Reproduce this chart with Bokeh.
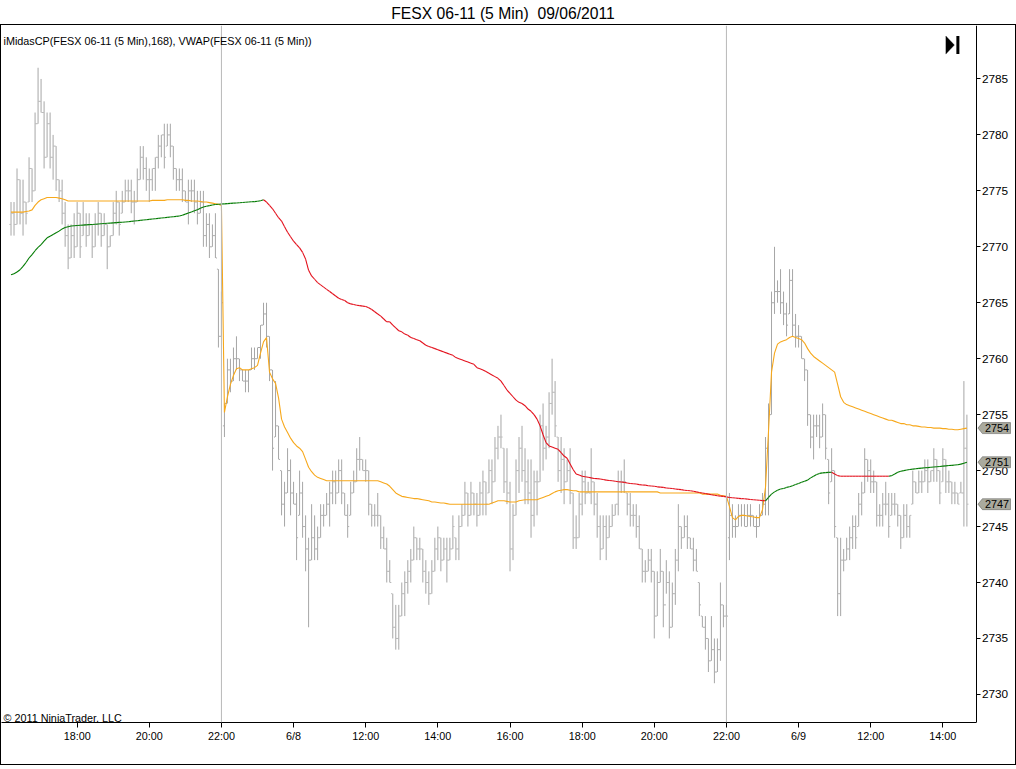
from bokeh.plotting import figure
from bokeh.models import (FixedTicker, Span, Label, PolyAnnotation, Div,
                          ColumnDataSource, Range1d)
from bokeh.layouts import column
from bokeh.embed import file_html
from bokeh.resources import INLINE

# ---------------- data (5 min bars, FESX 06-11) ----------------
TITLE = "FESX 06-11 (5 Min)  09/06/2011"
LEGEND = "iMidasCP(FESX 06-11 (5 Min),168), VWAP(FESX 06-11 (5 Min))"
COPYRIGHT = "\u00a9 2011 NinjaTrader, LLC"

TICK_BARS = [22, 46, 70, 94, 118, 142, 166, 190, 214, 238, 262, 286, 310]
TICK_LABELS = ["18:00", "20:00", "22:00", "6/8", "12:00", "14:00", "16:00",
               "18:00", "20:00", "22:00", "6/9", "12:00", "14:00"]
PRICE_TICKS = [2730, 2735, 2740, 2745, 2750, 2755, 2760, 2765, 2770, 2775, 2780, 2785]
SESSION_BREAKS = [70, 238]

# session 1 (6/7 16:10 - 22:00)
high_s1 = [2774, 2774, 2777, 2776, 2776, 2774, 2778, 2777, 2782, 2786,
           2785, 2783, 2782, 2782, 2780, 2779, 2776, 2776, 2774, 2772,
           2772, 2773, 2774, 2773, 2774, 2773, 2773, 2772, 2773, 2774,
           2773, 2773, 2772, 2771, 2774, 2775, 2774, 2775, 2776, 2776,
           2776, 2775, 2777, 2779, 2779, 2778, 2777, 2777, 2778, 2780,
           2780, 2781, 2781, 2781, 2779, 2777, 2777, 2777, 2775, 2776,
           2776, 2776, 2775, 2775, 2775, 2773, 2773, 2772, 2773, 2768,
           2766]
low_s1 = [2771, 2771, 2772, 2772, 2771, 2772, 2774, 2774, 2775, 2781,
          2782, 2777, 2778, 2777, 2776, 2775, 2774, 2772, 2770, 2768,
          2769, 2769, 2770, 2769, 2771, 2770, 2771, 2769, 2770, 2771,
          2770, 2771, 2768, 2770, 2771, 2772, 2771, 2773, 2774, 2774,
          2773, 2772, 2774, 2776, 2776, 2775, 2774, 2775, 2775, 2777,
          2778, 2777, 2779, 2778, 2776, 2775, 2775, 2774, 2774, 2772,
          2774, 2773, 2772, 2773, 2770, 2770, 2769, 2770, 2769, 2761,
          2762]
open_s1 = [2772, 2773, 2772, 2776, 2773, 2774, 2774, 2777, 2775, 2781,
           2783, 2782, 2778, 2781, 2778, 2779, 2776, 2775, 2773, 2771,
           2769, 2771, 2770, 2773, 2771, 2772, 2771, 2772, 2770, 2772,
           2773, 2771, 2772, 2770, 2771, 2773, 2774, 2773, 2774, 2775,
           2775, 2774, 2774, 2776, 2778, 2777, 2776, 2776, 2777, 2778,
           2779, 2780, 2779, 2780, 2779, 2777, 2776, 2776, 2775, 2774,
           2775, 2775, 2774, 2773, 2774, 2771, 2772, 2770, 2771, 2768,
           2762]
close_s1 = [2773, 2772, 2776, 2773, 2774, 2773, 2777, 2775, 2781, 2783,
            2782, 2778, 2781, 2778, 2779, 2776, 2775, 2773, 2771, 2769,
            2771, 2770, 2773, 2770, 2772, 2771, 2772, 2770, 2772, 2773,
            2771, 2772, 2770, 2771, 2773, 2774, 2772, 2774, 2775, 2775,
            2774, 2774, 2776, 2778, 2777, 2776, 2776, 2777, 2778, 2779,
            2780, 2778, 2780, 2779, 2777, 2776, 2776, 2775, 2774, 2775,
            2775, 2774, 2773, 2774, 2771, 2772, 2770, 2771, 2769, 2762,
            2765]

# session 2 (6/8 08:05 - 22:00)
high_s2 = [2756, 2760, 2760, 2761, 2762, 2760, 2759, 2759, 2759, 2761,
           2761, 2761, 2763, 2765, 2765, 2762, 2759, 2758, 2754, 2750,
           2749, 2752, 2751, 2749, 2748, 2750, 2749, 2746, 2744, 2747,
           2746, 2745, 2747, 2747, 2748, 2749, 2750, 2750, 2751, 2751,
           2748, 2747, 2749, 2750, 2752, 2753, 2751, 2751, 2750, 2747,
           2747, 2748, 2746, 2745, 2744, 2742, 2739, 2738, 2738, 2740,
           2741, 2742, 2743, 2745, 2744, 2744, 2743, 2742, 2741, 2742,
           2744, 2745, 2744, 2744, 2744, 2744, 2746, 2744, 2746, 2747,
           2749, 2748, 2749, 2748, 2748, 2749, 2750, 2749, 2751, 2751,
           2753, 2754, 2755, 2752, 2752, 2749, 2747, 2751, 2753, 2754,
           2752, 2751, 2751, 2750, 2750, 2755, 2756, 2754, 2757, 2760,
           2758, 2753, 2753, 2752, 2751, 2752, 2748, 2746, 2748, 2750,
           2750, 2749, 2752, 2749, 2748, 2746, 2746, 2746, 2746, 2747,
           2747, 2750, 2750, 2751, 2748, 2748, 2747, 2747, 2746, 2743,
           2742, 2743, 2743, 2741, 2741, 2743, 2741, 2742, 2741, 2740,
           2743, 2747, 2745, 2746, 2746, 2744, 2744, 2743, 2740, 2737,
           2737, 2735, 2737, 2735, 2735, 2740, 2738, 2738]
low_s2 = [2753, 2756, 2757, 2758, 2759, 2758, 2758, 2757, 2757, 2759,
          2759, 2760, 2760, 2763, 2761, 2758, 2750, 2753, 2751, 2746,
          2745, 2748, 2746, 2747, 2742, 2746, 2744, 2741, 2736, 2742,
          2742, 2742, 2744, 2745, 2746, 2745, 2747, 2747, 2748, 2747,
          2746, 2744, 2746, 2748, 2749, 2750, 2750, 2749, 2746, 2745,
          2745, 2745, 2743, 2743, 2740, 2740, 2735, 2734, 2734, 2737,
          2737, 2739, 2740, 2742, 2742, 2742, 2740, 2739, 2738, 2739,
          2741, 2742, 2741, 2742, 2740, 2742, 2743, 2742, 2742, 2745,
          2746, 2745, 2746, 2746, 2745, 2746, 2746, 2746, 2748, 2747,
          2749, 2751, 2752, 2748, 2747, 2741, 2742, 2746, 2748, 2749,
          2747, 2747, 2744, 2745, 2746, 2749, 2750, 2751, 2752, 2755,
          2753, 2749, 2748, 2747, 2749, 2747, 2743, 2743, 2744, 2746,
          2747, 2748, 2747, 2746, 2744, 2742, 2743, 2742, 2744, 2745,
          2746, 2746, 2748, 2748, 2746, 2745, 2745, 2744, 2743, 2740,
          2740, 2741, 2740, 2735, 2737, 2740, 2736, 2739, 2735, 2736,
          2738, 2741, 2743, 2744, 2743, 2743, 2741, 2741, 2737, 2736,
          2734, 2732, 2733, 2731, 2732, 2733, 2736, 2737]
open_s2 = [2754, 2756, 2759, 2758, 2760, 2760, 2759, 2758, 2758, 2759,
           2760, 2760, 2761, 2763, 2764, 2762, 2759, 2753, 2754, 2750,
           2747, 2748, 2750, 2748, 2747, 2746, 2748, 2745, 2743, 2742,
           2744, 2743, 2744, 2746, 2746, 2747, 2748, 2749, 2748, 2750,
           2748, 2746, 2746, 2748, 2749, 2751, 2751, 2750, 2750, 2747,
           2746, 2746, 2746, 2744, 2743, 2741, 2739, 2736, 2735, 2737,
           2739, 2740, 2741, 2742, 2744, 2743, 2743, 2741, 2740, 2739,
           2741, 2743, 2744, 2742, 2743, 2742, 2743, 2744, 2743, 2745,
           2746, 2748, 2746, 2748, 2747, 2746, 2748, 2749, 2748, 2750,
           2749, 2752, 2753, 2752, 2749, 2748, 2743, 2746, 2750, 2752,
           2750, 2749, 2748, 2746, 2749, 2749, 2754, 2752, 2753, 2756,
           2757, 2753, 2750, 2751, 2749, 2750, 2748, 2744, 2744, 2747,
           2749, 2748, 2748, 2749, 2747, 2745, 2743, 2745, 2744, 2745,
           2746, 2747, 2749, 2749, 2748, 2747, 2746, 2746, 2745, 2743,
           2741, 2741, 2742, 2741, 2737, 2740, 2741, 2738, 2740, 2736,
           2739, 2742, 2745, 2744, 2745, 2744, 2743, 2742, 2740, 2737,
           2736, 2735, 2733, 2734, 2732, 2734, 2738, 2737]
close_s2 = [2756, 2759, 2758, 2760, 2760, 2759, 2758, 2758, 2759, 2760,
            2760, 2761, 2763, 2764, 2762, 2759, 2752, 2754, 2751, 2747,
            2748, 2750, 2748, 2747, 2744, 2748, 2745, 2743, 2742, 2744,
            2743, 2744, 2746, 2746, 2747, 2748, 2749, 2748, 2750, 2748,
            2746, 2745, 2748, 2749, 2751, 2751, 2750, 2750, 2747, 2746,
            2746, 2746, 2744, 2743, 2741, 2740, 2736, 2735, 2737, 2739,
            2740, 2741, 2742, 2744, 2743, 2743, 2741, 2740, 2739, 2741,
            2743, 2744, 2742, 2743, 2742, 2743, 2745, 2743, 2745, 2746,
            2748, 2746, 2748, 2747, 2746, 2748, 2749, 2747, 2750, 2749,
            2752, 2753, 2753, 2749, 2748, 2743, 2746, 2750, 2752, 2750,
            2749, 2748, 2746, 2749, 2749, 2754, 2752, 2753, 2756, 2757,
            2754, 2750, 2751, 2749, 2750, 2748, 2744, 2744, 2747, 2749,
            2748, 2748, 2749, 2747, 2745, 2743, 2745, 2744, 2745, 2746,
            2747, 2749, 2749, 2749, 2747, 2746, 2746, 2745, 2743, 2741,
            2741, 2742, 2741, 2737, 2740, 2741, 2738, 2740, 2736, 2739,
            2742, 2745, 2744, 2745, 2744, 2743, 2742, 2741, 2738, 2736,
            2735, 2733, 2734, 2732, 2734, 2738, 2737, 2737]

# session 3 (6/9 08:05 - 14:40)
high_s3 = [2748, 2747, 2746, 2747, 2747, 2747, 2747, 2747, 2746, 2746,
           2747, 2748, 2753, 2756, 2766, 2770, 2767, 2768, 2766, 2765,
           2768, 2768, 2764, 2763, 2762, 2760, 2759, 2755, 2755, 2755,
           2755, 2756, 2755, 2751, 2752, 2750, 2744, 2744, 2743, 2744,
           2745, 2746, 2746, 2748, 2749, 2752, 2751, 2751, 2750, 2749,
           2747, 2748, 2749, 2748, 2748, 2748, 2747, 2746, 2747, 2747,
           2746, 2750, 2749, 2750, 2750, 2751, 2751, 2750, 2752, 2751,
           2750, 2752, 2751, 2750, 2749, 2749, 2748, 2749, 2758, 2755]
low_s3 = [2742, 2744, 2744, 2745, 2745, 2745, 2745, 2745, 2745, 2744,
          2745, 2746, 2746, 2746, 2755, 2764, 2765, 2764, 2763, 2762,
          2764, 2762, 2761, 2761, 2760, 2758, 2754, 2752, 2751, 2753,
          2752, 2753, 2751, 2747, 2749, 2744, 2737, 2737, 2741, 2742,
          2742, 2743, 2743, 2745, 2746, 2748, 2749, 2748, 2748, 2745,
          2745, 2745, 2746, 2744, 2746, 2746, 2745, 2743, 2744, 2744,
          2744, 2747, 2748, 2748, 2748, 2749, 2748, 2749, 2749, 2749,
          2747, 2749, 2748, 2748, 2747, 2747, 2747, 2748, 2745, 2745]
open_s3 = [2744, 2746, 2745, 2745, 2746, 2746, 2745, 2746, 2746, 2745,
           2745, 2746, 2747, 2752, 2755, 2765, 2766, 2766, 2765, 2764,
           2764, 2767, 2763, 2762, 2762, 2760, 2759, 2755, 2753, 2754,
           2754, 2753, 2755, 2751, 2749, 2750, 2744, 2739, 2742, 2742,
           2743, 2744, 2745, 2745, 2747, 2748, 2751, 2750, 2749, 2749,
           2746, 2746, 2747, 2747, 2746, 2747, 2747, 2746, 2744, 2746,
           2745, 2747, 2749, 2748, 2749, 2749, 2750, 2749, 2750, 2751,
           2750, 2749, 2751, 2749, 2749, 2748, 2748, 2748, 2748, 2752]
close_s3 = [2746, 2745, 2745, 2746, 2746, 2745, 2746, 2746, 2745, 2745,
            2746, 2747, 2752, 2755, 2765, 2766, 2766, 2765, 2764, 2763,
            2767, 2763, 2762, 2762, 2760, 2759, 2755, 2753, 2754, 2754,
            2753, 2755, 2752, 2748, 2750, 2745, 2739, 2742, 2742, 2743,
            2744, 2745, 2744, 2747, 2748, 2751, 2750, 2749, 2749, 2746,
            2746, 2747, 2747, 2745, 2747, 2747, 2746, 2744, 2746, 2745,
            2746, 2749, 2748, 2749, 2749, 2750, 2749, 2750, 2751, 2750,
            2748, 2751, 2749, 2749, 2748, 2748, 2747, 2748, 2752, 2747]

# VWAP (session anchored)
vwap_s1 = [2773.1, 2773.1, 2773.1, 2773.1, 2773.1, 2773.15, 2773.2, 2773.3, 2773.7, 2774.0,
           2774.2, 2774.3, 2774.4, 2774.4, 2774.4, 2774.4, 2774.35, 2774.3, 2774.2, 2774.1,
           2774.1, 2774.1, 2774.1, 2774.1, 2774.1, 2774.1, 2774.1, 2774.1, 2774.1, 2774.1,
           2774.1, 2774.1, 2774.1, 2774.1, 2774.1, 2774.1, 2774.1, 2774.1, 2774.1, 2774.1,
           2774.1, 2774.1, 2774.1, 2774.1, 2774.1, 2774.1, 2774.1, 2774.15, 2774.15, 2774.15,
           2774.15, 2774.15, 2774.2, 2774.2, 2774.2, 2774.2, 2774.2, 2774.2, 2774.15, 2774.15,
           2774.1, 2774.1, 2774.1, 2774.05, 2774.0, 2774.0, 2773.95, 2773.9, 2773.85, 2773.8,
           2773.7]
vwap_s2 = [2755.2, 2756.6, 2757.7, 2758.5, 2759.1, 2759.2, 2759.0, 2759.0, 2759.0, 2759.1,
           2759.2, 2759.4, 2760.5, 2761.5, 2761.9, 2758.8, 2758.2, 2757.8, 2756.5, 2754.6,
           2753.9, 2753.4, 2752.9, 2752.5, 2752.2, 2752.0, 2751.7, 2751.0, 2750.3, 2749.9,
           2749.6, 2749.4, 2749.3, 2749.2, 2749.1, 2749.1, 2749.1, 2749.1, 2749.1, 2749.1,
           2749.1, 2749.1, 2749.1, 2749.1, 2749.1, 2749.1, 2749.1, 2749.1, 2749.1, 2749.1,
           2749.1, 2749.1, 2749.0, 2748.9, 2748.8, 2748.6, 2748.3, 2748.0, 2747.85, 2747.7,
           2747.65, 2747.6, 2747.55, 2747.5, 2747.5, 2747.45, 2747.4, 2747.35, 2747.3, 2747.2,
           2747.2, 2747.15, 2747.1, 2747.1, 2747.05, 2747.0, 2747.0, 2747.0, 2747.0, 2747.0,
           2747.0, 2747.0, 2747.0, 2747.0, 2747.0, 2747.0, 2747.0, 2747.0, 2747.0, 2747.1,
           2747.2, 2747.3, 2747.3, 2747.3, 2747.25, 2747.2, 2747.2, 2747.2, 2747.3, 2747.35,
           2747.4, 2747.4, 2747.4, 2747.4, 2747.4, 2747.5, 2747.6, 2747.7, 2747.8, 2747.95,
           2748.1, 2748.2, 2748.25, 2748.3, 2748.3, 2748.25, 2748.2, 2748.2, 2748.1, 2748.1,
           2748.1, 2748.1, 2748.1, 2748.1, 2748.1, 2748.1, 2748.1, 2748.1, 2748.1, 2748.1,
           2748.1, 2748.1, 2748.1, 2748.1, 2748.1, 2748.1, 2748.1, 2748.1, 2748.1, 2748.1,
           2748.1, 2748.1, 2748.1, 2748.1, 2748.1, 2748.0, 2748.0, 2748.0, 2748.0, 2748.0,
           2748.0, 2748.0, 2748.0, 2748.0, 2748.0, 2748.0, 2748.0, 2748.0, 2748.0, 2747.9,
           2747.9, 2747.9, 2747.9, 2747.9, 2747.9, 2747.8, 2747.75, 2747.7]
vwap_s3 = [2746.8, 2745.8, 2745.6, 2745.9, 2746.0, 2746.0, 2745.95, 2745.9, 2745.85, 2745.8,
           2745.8, 2746.5, 2748.5, 2753.5, 2758.8, 2760.5, 2761.3, 2761.5, 2761.6, 2761.7,
           2761.9, 2762.0, 2761.9, 2761.8, 2761.7, 2761.4, 2760.9, 2760.5, 2760.2, 2760.0,
           2759.8, 2759.6, 2759.4, 2759.2, 2759.0, 2758.8, 2757.7, 2756.6, 2756.1, 2755.9,
           2755.8, 2755.7, 2755.6, 2755.5, 2755.4, 2755.3, 2755.2, 2755.1, 2755.0, 2754.9,
           2754.8, 2754.7, 2754.6, 2754.5, 2754.5, 2754.4, 2754.3, 2754.2, 2754.2, 2754.1,
           2754.1, 2754.0, 2754.0, 2753.95, 2753.9, 2753.9, 2753.85, 2753.85, 2753.8, 2753.8,
           2753.8, 2753.75, 2753.75, 2753.7, 2753.7, 2753.65, 2753.65, 2753.7, 2753.75, 2753.8]

# iMidasCP (anchored, 168)
midas_s1 = [2767.50, 2767.60, 2767.75, 2767.95, 2768.25, 2768.60, 2769.00, 2769.30, 2769.65, 2769.95,
            2770.20, 2770.50, 2770.80, 2770.95, 2771.10, 2771.25, 2771.40, 2771.60, 2771.72, 2771.80,
            2771.86, 2771.88, 2771.90, 2771.92, 2771.94, 2771.96, 2771.98, 2772.00, 2772.02, 2772.04,
            2772.06, 2772.08, 2772.10, 2772.12, 2772.14, 2772.16, 2772.18, 2772.20, 2772.22, 2772.24,
            2772.27, 2772.30, 2772.33, 2772.36, 2772.39, 2772.42, 2772.45, 2772.48, 2772.51, 2772.54,
            2772.57, 2772.60, 2772.63, 2772.66, 2772.69, 2772.72, 2772.76, 2772.82, 2772.92, 2773.02,
            2773.12, 2773.22, 2773.32, 2773.45, 2773.55, 2773.62, 2773.68, 2773.74, 2773.78, 2773.80,
            2773.82]
midas_s2 = [2773.84, 2773.86, 2773.88, 2773.90, 2773.92, 2773.94, 2773.96, 2773.98, 2774.00, 2774.02,
            2774.04, 2774.07, 2774.12, 2774.20, 2774.00, 2773.70, 2773.40, 2773.00, 2772.60, 2772.30,
            2771.80, 2771.30, 2770.90, 2770.50, 2770.20, 2769.90, 2769.50, 2768.90, 2767.90, 2767.40,
            2767.10, 2766.80, 2766.60, 2766.40, 2766.20, 2766.00, 2765.80, 2765.60, 2765.40, 2765.30,
            2765.20, 2765.00, 2764.90, 2764.85, 2764.78, 2764.74, 2764.70, 2764.66, 2764.55, 2764.40,
            2764.20, 2764.00, 2763.80, 2763.55, 2763.30, 2763.30, 2763.00, 2762.75, 2762.50, 2762.40,
            2762.20, 2762.10, 2761.90, 2761.80, 2761.70, 2761.60, 2761.40, 2761.20, 2761.10, 2761.00,
            2760.90, 2760.80, 2760.70, 2760.60, 2760.50, 2760.40, 2760.30, 2760.10, 2760.00, 2759.90,
            2759.80, 2759.70, 2759.60, 2759.50, 2759.20, 2759.10, 2759.00, 2758.85, 2758.70, 2758.55,
            2758.40, 2758.25, 2758.00, 2757.60, 2757.20, 2756.90, 2756.60, 2756.30, 2756.10, 2756.00,
            2755.80, 2755.50, 2755.30, 2755.00, 2754.60, 2754.00, 2753.20, 2752.50, 2752.20, 2752.10,
            2752.00, 2751.90, 2751.60, 2751.30, 2751.10, 2750.60, 2750.10, 2749.70, 2749.60, 2749.50,
            2749.45, 2749.40, 2749.35, 2749.30, 2749.28, 2749.25, 2749.20, 2749.15, 2749.12, 2749.10,
            2749.05, 2749.00, 2748.98, 2748.95, 2748.90, 2748.85, 2748.82, 2748.80, 2748.75, 2748.72,
            2748.70, 2748.65, 2748.62, 2748.60, 2748.55, 2748.52, 2748.50, 2748.45, 2748.42, 2748.40,
            2748.35, 2748.32, 2748.30, 2748.25, 2748.22, 2748.20, 2748.15, 2748.10, 2748.05, 2748.00,
            2747.95, 2747.90, 2747.85, 2747.80, 2747.75, 2747.72, 2747.70, 2747.65]
midas_s3 = [2747.60, 2747.58, 2747.55, 2747.52, 2747.50, 2747.48, 2747.45, 2747.42, 2747.40, 2747.38,
            2747.35, 2747.32, 2747.30, 2747.60, 2747.90, 2748.10, 2748.25, 2748.35, 2748.40, 2748.50,
            2748.55, 2748.65, 2748.75, 2748.85, 2748.95, 2749.05, 2749.15, 2749.35, 2749.50, 2749.65,
            2749.75, 2749.80, 2749.82, 2749.84, 2749.86, 2749.70, 2749.55, 2749.50, 2749.50, 2749.50,
            2749.50, 2749.50, 2749.50, 2749.50, 2749.50, 2749.50, 2749.50, 2749.50, 2749.50, 2749.50,
            2749.50, 2749.50, 2749.50, 2749.50, 2749.55, 2749.70, 2749.85, 2749.95, 2750.00, 2750.05,
            2750.10, 2750.13, 2750.16, 2750.20, 2750.22, 2750.25, 2750.27, 2750.30, 2750.32, 2750.35,
            2750.37, 2750.40, 2750.42, 2750.45, 2750.47, 2750.50, 2750.53, 2750.58, 2750.66, 2750.75]

# ---------------- assemble ----------------
high = high_s1 + high_s2 + high_s3
low = low_s1 + low_s2 + low_s3
opn = open_s1 + open_s2 + open_s3
close = close_s1 + close_s2 + close_s3
vwap = vwap_s1 + vwap_s2 + vwap_s3
midas = midas_s1 + midas_s2 + midas_s3
idx = list(range(len(high)))

# ---------------- layout constants (pixels) ----------------
FONT = "Liberation Sans"
SMALL = "10.8px"
BAR_COLOR = "#a6a6a6"
VWAP_COLOR = "#f7a81b"
UP_COLOR = "#007a00"
DOWN_COLOR = "#e3101c"
MARK_FILL = "#aaaa9e"

PAGE_W = 1016
TITLE_H = 24
FW, FH = 1014, 695          # frame = whole inner canvas width
BOTTOM_H = 44
PX_PER_BAR = 3.0
PX_PER_PT = 11.158
FRAME_LEFT, FRAME_TOP = 1.0, 28.0   # page position of the frame
BAR0_PX = 10.5                      # page x of the first bar
P2785_PX = 81.3                     # page y of price 2785

X0 = (FRAME_LEFT - BAR0_PX) / PX_PER_BAR
X1 = X0 + FW / PX_PER_BAR
Y1 = PRICE_TICKS[-1] + (P2785_PX - FRAME_TOP) / PX_PER_PT
Y0 = Y1 - FH / PX_PER_PT


def ux(px):
    return X0 + (px - FRAME_LEFT) / PX_PER_BAR


def uy(py):
    return Y1 - (py - FRAME_TOP) / PX_PER_PT


X_AX = ux(974.5)   # price axis line position

p = figure(frame_width=FW, frame_height=FH,
           x_range=Range1d(X0, X1), y_range=Range1d(Y0, Y1),
           y_axis_location="right", output_backend="svg",
           toolbar_location=None, min_border_left=0, min_border_top=0,
           min_border_right=0, min_border_bottom=BOTTOM_H)
p.outline_line_color = None
p.grid.visible = False
p.background_fill_color = "white"
p.border_fill_color = "white"
p.styles = {"border": "1px solid black"}

xa = p.xaxis[0]
xa.ticker = FixedTicker(ticks=TICK_BARS)
xa.major_label_overrides = {b: l for b, l in zip(TICK_BARS, TICK_LABELS)}
xa.bounds = (X0, X_AX)
ya = p.yaxis[0]
ya.ticker = FixedTicker(ticks=PRICE_TICKS)
ya.fixed_location = X_AX
for ax, tout, fs in ((xa, 5, SMALL), (ya, 4, "11.8px")):
    ax.major_tick_in = 0
    ax.major_tick_out = tout
    ax.minor_tick_in = 0
    ax.minor_tick_out = 0
    ax.axis_line_color = "black"
    ax.major_tick_line_color = "black"
    ax.major_label_text_font = FONT
    ax.major_label_text_font_size = fs
    ax.major_label_text_color = "black"
    ax.major_label_standoff = 2
ya.major_label_standoff = 1

# OHLC bars
src = ColumnDataSource(dict(
    i=idx, o=opn, h=high, l=low, c=close,
    ol=[i - 1.5 / PX_PER_BAR for i in idx], orr=[i - 0.5 / PX_PER_BAR for i in idx],
    cl=[i + 0.5 / PX_PER_BAR for i in idx], cr=[i + 1.5 / PX_PER_BAR for i in idx]))
p.segment(x0="i", y0="l", x1="i", y1="h", source=src, line_color=BAR_COLOR, line_width=1)
p.segment(x0="ol", y0="o", x1="orr", y1="o", source=src, line_color=BAR_COLOR, line_width=1)
p.segment(x0="cl", y0="c", x1="cr", y1="c", source=src, line_color=BAR_COLOR, line_width=1)

for b in SESSION_BREAKS:
    p.add_layout(Span(location=b, dimension="height", line_color="#b8b8b8", line_width=1))

# VWAP
p.line(idx, vwap, line_color=VWAP_COLOR, line_width=1.1)

# iMidas, coloured by slope
seg = dict(x0=[], y0=[], x1=[], y1=[], col=[])
for k in range(1, len(midas)):
    seg["x0"].append(idx[k - 1]); seg["y0"].append(midas[k - 1])
    seg["x1"].append(idx[k]); seg["y1"].append(midas[k])
    seg["col"].append(UP_COLOR if midas[k] > midas[k - 1] else DOWN_COLOR)
p.segment(x0="x0", y0="y0", x1="x1", y1="y1", line_color="col", line_width=1.1,
          source=ColumnDataSource(seg))

# texts inside plot
p.add_layout(Label(x=ux(3), y=uy(43.5), text=LEGEND,
                   text_font=FONT, text_font_size=SMALL, text_color="black",
                   text_baseline="alphabetic"))
p.add_layout(Label(x=ux(3), y=uy(718.5), text=COPYRIGHT,
                   text_font=FONT, text_font_size=SMALL, text_color="black",
                   text_baseline="alphabetic"))

# "go to end" icon
p.add_layout(PolyAnnotation(xs=[ux(943.5), ux(943.5), ux(952)],
                            ys=[uy(38.5), uy(56.5), uy(47.5)],
                            fill_color="black", fill_alpha=1, line_color="black", line_width=1))
p.add_layout(PolyAnnotation(xs=[ux(954), ux(957), ux(957), ux(954)],
                            ys=[uy(38.5), uy(38.5), uy(56.5), uy(56.5)],
                            fill_color="black", fill_alpha=1, line_color=None))

# last-value markers on the price axis
hh = 5.5 / PX_PER_PT
for v in (vwap[-1], midas[-1], close[-1]):
    xs = [ux(975.5), ux(980), ux(1008), ux(1008), ux(980)]
    ys = [v, v + hh, v + hh, v - hh, v - hh]
    p.add_layout(PolyAnnotation(xs=xs, ys=ys, fill_color=MARK_FILL, fill_alpha=1,
                                line_color="black", line_width=1))
    p.add_layout(Label(x=ux(982.5), y=v, text=str(int(round(v))), text_font=FONT,
                       text_font_size=SMALL, text_color="black", text_baseline="middle"))

title = Div(text=('<div style="width:1006px;text-align:center;white-space:pre;'
                  'font-family:\'Liberation Sans\';font-size:15.7px;line-height:16px;'
                  'padding-top:6px;color:black;">' + TITLE + '</div>'),
            width=PAGE_W, height=TITLE_H, margin=0)

layout = column(title, p, spacing=0)
open("out.html", "w").write(file_html(layout, INLINE))
